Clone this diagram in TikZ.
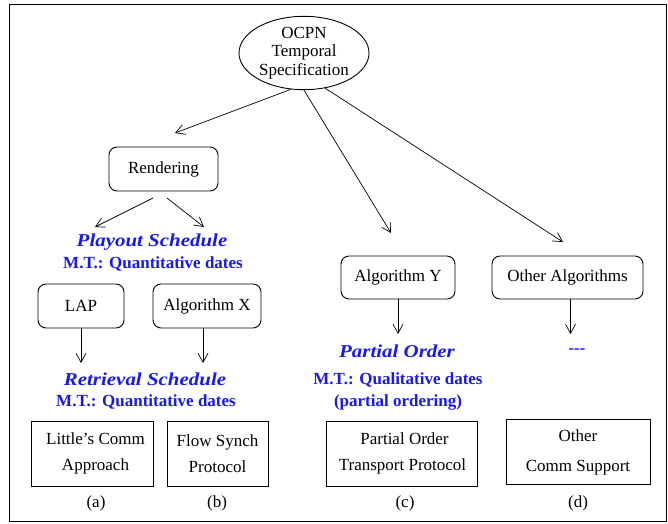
\documentclass[tikz,border=0pt]{standalone}
\usepackage{fontspec}
\setmainfont{Liberation Serif}
\newfontfamily\titlefont[FakeStretch=1.15]{Liberation Serif}
\usetikzlibrary{shapes.geometric,arrows.meta}
\definecolor{mtblue}{RGB}{25,25,235}
\tikzset{
  rbox/.style={draw, rounded corners=8pt, line width=0.9pt, inner sep=0pt, font=\fontsize{17}{20}\selectfont},
  sbox/.style={draw, line width=0.9pt, inner sep=0pt, align=center, minimum height=65pt, font=\fontsize{17}{26}\selectfont},
  ttl/.style={text=mtblue, inner sep=0pt, font=\titlefont\fontsize{18.2}{22}\selectfont\bfseries\itshape},
  mt/.style={text=mtblue, inner sep=0pt, align=center, font=\fontsize{17}{22}\selectfont\bfseries},
  lbl/.style={inner sep=0pt, font=\fontsize{17}{20}\selectfont},
  arr/.style={line width=0.7pt, -{Straight Barb[length=9pt,width=10pt,line width=0.7pt]}}
}
\begin{document}
\begin{tikzpicture}[x=1pt,y=-1pt]
\useasboundingbox (0,0) rectangle (668,523);
\draw[line width=1pt] (9,4) rectangle (666.5,521.5);

% top ellipse
\node[draw, ellipse, line width=0.9pt, minimum width=130pt, minimum height=72pt, inner sep=0pt, align=center, font=\fontsize{17}{18.5}\selectfont] (ell) at (304,53) {OCPN\\Temporal\\Specification};

% rounded boxes
\node[rbox, minimum width=109pt, minimum height=44pt] (rend) at (163.5,169) {Rendering};
\node[rbox, minimum width=86pt, minimum height=44pt] (lap) at (81,306) {LAP};
\node[rbox, minimum width=108pt, minimum height=44pt] (algx) at (207,306) {Algorithm X};
\node[rbox, minimum width=114pt, minimum height=43pt] (algy) at (398,277.5) {Algorithm Y};
\node[rbox, minimum width=151pt, minimum height=43pt] (other) at (567.5,277.5) {Other Algorithms};

% titles
\node[ttl] (play) at (152,242) {Playout Schedule};
\node[mt] (mt1) at (153,264) {M.T.: Quantitative dates};
\node[ttl] (retr) at (145,379) {Retrieval Schedule};
\node[mt] (mt2) at (146,402) {M.T.: Quantitative dates};
\node[ttl] (po) at (397,351) {Partial Order};
\node[ttl, font=\fontsize{17}{20}\selectfont\bfseries\itshape] (dots) at (577,351) {{-}{-}{-}};
\node[mt] (mt3) at (398,391) {M.T.: Qualitative dates\\(partial ordering)};

% square boxes
\node[sbox, minimum width=122pt] (little) at (92,453.5) {\hspace*{7pt}Little's Comm\\\hspace*{7pt}Approach};
\node[sbox, minimum width=101pt] (flow) at (217.5,453.5) {Flow Synch\\Protocol};
\node[sbox, minimum width=151pt] (potp) at (401.5,453.5) {\hspace*{6pt}Partial Order\\\hspace*{2pt}Transport Protocol};
\node[sbox, minimum width=144pt, font=\fontsize{17}{30}\selectfont] (ocs) at (578,452) {Other\\Comm Support};

% labels
\node[lbl] (la) at (96,503) {(a)};
\node[lbl] (lb) at (217,503) {(b)};
\node[lbl] (lc) at (405,503) {(c)};
\node[lbl] (ld) at (578,503) {(d)};

% free arrow ends
\coordinate (t1) at (175,133);
\coordinate (t2) at (391,233);
\coordinate (t3) at (563,242);
\coordinate (r1s) at (153,198);
\coordinate (r1t) at (95,227);
\coordinate (r2s) at (167,198);
\coordinate (r2t) at (204,227);
\coordinate (tl) at (81,363);
\coordinate (tx) at (203,363);
\coordinate (ty) at (398,334);
\coordinate (to) at (570.5,334);

% connectors
\draw[arr] (ell.250) -- (t1);
\draw[arr] (ell.270) -- (t2);
\draw[arr] (ell.301) -- (t3);
\draw[arr] (r1s) -- (r1t);
\draw[arr] (r2s) -- (r2t);
\draw[arr] (lap.south) -- (tl);
\draw[arr] (algx.south -| tx) -- (tx);
\draw[arr] (algy.south) -- (ty);
\draw[arr] (other.south -| to) -- (to);
\end{tikzpicture}
\end{document}
